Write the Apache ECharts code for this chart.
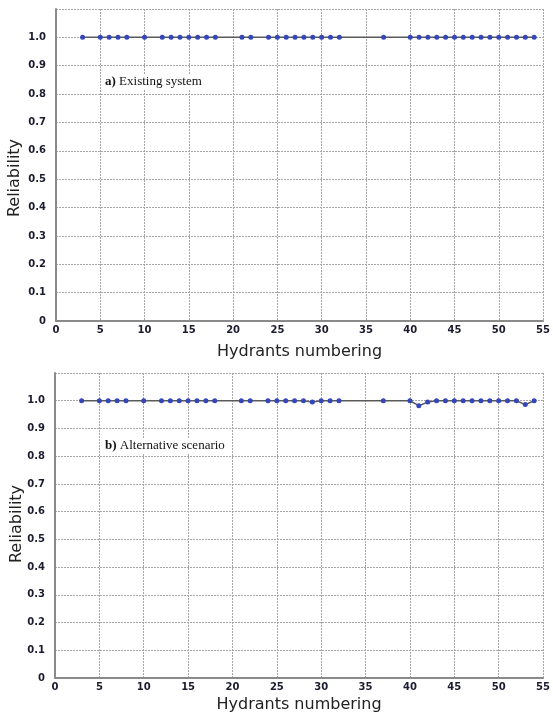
<!DOCTYPE html>
<html><head><meta charset="utf-8">
<script src="https://cdn.jsdelivr.net/npm/echarts@6/dist/echarts.min.js"></script>
<style>html,body{margin:0;padding:0;background:#fff}#c{width:553px;height:716px}</style>
</head><body><div id="c"></div>
<script>
const hydrants = [3,5,6,7,8,10,12,13,14,15,16,17,18,21,22,24,25,26,27,28,29,30,31,32,37,40,41,42,43,44,45,46,47,48,49,50,51,52,53,54];
const existingReliability = [1,1,1,1,1,1,1,1,1,1,1,1,1,1,1,1,1,1,1,1,1,1,1,1,1,1,1,1,1,1,1,1,1,1,1,1,1,1,1,1];
const alternativeReliability = [1,1,1,1,1,1,1,1,1,1,1,1,1,1,1,1,1,1,1,1,0.995,1,1,1,1,1,0.982,0.995,1,1,1,1,1,1,1,1,1,1,0.986,1];
const xTicks = [0,5,10,15,20,25,30,35,40,45,50,55];
const yTicks = [0,0.1,0.2,0.3,0.4,0.5,0.6,0.7,0.8,0.9,1.0];
const panelLabels = [['a)', ' Existing system'], ['b)', ' Alternative scenario']];
const xTitle = 'Hydrants numbering';
const yTitle = 'Reliability';

const chart = echarts.init(document.getElementById('c'), null, {renderer: 'canvas'});
const labelColor = '#1c1c30';
const gridLine = {color: '#a6a6a6', type: [2, 1], width: 1};
function xAxis(gi, gap) {
  return {
    type: 'value', gridIndex: gi, min: xTicks[0], max: xTicks[xTicks.length - 1], interval: 5,
    name: xTitle, nameLocation: 'middle', nameGap: gap,
    nameTextStyle: {fontFamily: 'DejaVu Sans', fontSize: 16, color: '#222'},
    axisLine: {lineStyle: {color: '#8a8a8a', width: 2}},
    axisTick: {show: false},
    axisLabel: {fontFamily: 'DejaVu Sans', fontWeight: 'bold', fontSize: 10, color: labelColor, margin: 4,
      formatter: v => xTicks.includes(v) ? String(v) : ''},
    splitLine: {show: true, lineStyle: gridLine}
  };
}
function yAxis(gi) {
  return {
    type: 'value', gridIndex: gi, min: 0, max: 1.1, interval: 0.1,
    axisLine: {show: true, lineStyle: {color: '#8a8a8a', width: 2}},
    axisTick: {show: false},
    axisLabel: {fontFamily: 'DejaVu Sans', fontWeight: 'bold', fontSize: 10, color: labelColor, margin: 10,
      formatter: v => {
        const t = yTicks.find(y => Math.abs(y - v) < 1e-6);
        if (t === undefined) return '';
        return t === 0 ? '0' : t.toFixed(1);
      }},
    splitLine: {show: true, lineStyle: gridLine}
  };
}
function series(gi, vals) {
  return {
    type: 'line', xAxisIndex: gi, yAxisIndex: gi,
    data: hydrants.map((h, i) => [h, vals[i]]),
    symbol: 'circle', symbolSize: 5,
    itemStyle: {color: '#3546b8'},
    lineStyle: {color: '#5a5a5a', width: 1.5},
    animation: false
  };
}
function annot(i, x, y) {
  return {
    type: 'text', left: x, top: y, z: 10,
    style: {
      text: '{b|' + panelLabels[i][0] + '}{n|' + panelLabels[i][1] + '}',
      rich: {
        b: {fontFamily: 'Liberation Serif', fontWeight: 'bold', fontSize: 13, fill: '#111'},
        n: {fontFamily: 'Liberation Serif', fontSize: 13, fill: '#111'}
      },
      backgroundColor: '#fff', padding: [1, 2]
    }
  };
}
chart.setOption({
  animation: false,
  grid: [
    {left: 56, right: 8, top: 9, height: 312},
    {left: 55, right: 6, top: 373, height: 305}
  ],
  xAxis: [xAxis(0, 23), xAxis(1, 19)],
  yAxis: [yAxis(0), yAxis(1)],
  series: [series(0, existingReliability), series(1, alternativeReliability)],
  graphic: [
    annot(0, 103, 74), annot(1, 103, 438),
    {type: 'text', x: 15, y: 178, rotation: Math.PI / 2, style: {text: yTitle, fontFamily: 'DejaVu Sans', fontSize: 16, fill: '#222', align: 'center', verticalAlign: 'middle'}},
    {type: 'text', x: 17, y: 524, rotation: Math.PI / 2, style: {text: yTitle, fontFamily: 'DejaVu Sans', fontSize: 16, fill: '#222', align: 'center', verticalAlign: 'middle'}}
  ]
});
</script></body></html>
